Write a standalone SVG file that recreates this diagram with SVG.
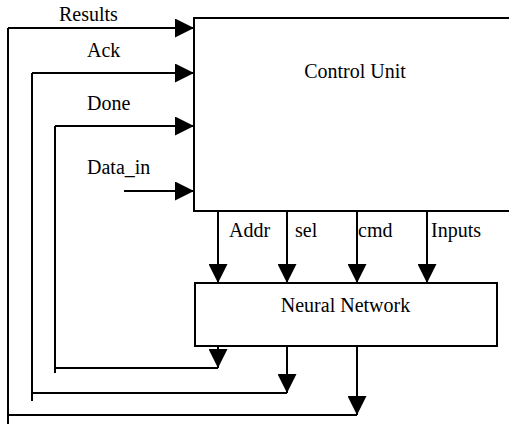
<svg xmlns="http://www.w3.org/2000/svg" width="509" height="428" viewBox="0 0 509 428">
  <style>
    .box { fill: #ffffff; stroke: #000000; stroke-width: 2; }
    .wire { fill: none; stroke: #000000; stroke-width: 2; }
    .arr { fill: none; stroke: #000000; stroke-width: 2; marker-end: url(#ah); }
    text { font-family: "Liberation Serif", "Times New Roman", serif; font-size: 20px; fill: #000000; }
  </style>
  <defs>
    <marker id="ah" markerUnits="userSpaceOnUse" viewBox="0 0 19 19" refX="19" refY="9.5" markerWidth="19" markerHeight="19" orient="auto">
      <path d="M0,0 L19,9.5 L0,19 Z" fill="#000000"/>
    </marker>
  </defs>
  <rect width="509" height="428" fill="#ffffff"/>

  <g id="control-unit">
    <rect class="box" x="194" y="18" width="340" height="193"/>
    <text x="355" y="78" text-anchor="middle">Control Unit</text>
  </g>

  <g id="neural-network">
    <rect class="box" x="195" y="283" width="302" height="63"/>
    <text x="345.5" y="312" text-anchor="middle">Neural Network</text>
  </g>

  <g id="connectors">
    <!-- Results feedback -->
    <line class="arr" x1="357" y1="346" x2="357" y2="415"/>
    <line class="wire" x1="357" y1="415" x2="8" y2="415"/>
    <line class="wire" x1="8" y1="424" x2="8" y2="28"/>
    <line class="arr" x1="8" y1="28" x2="194" y2="28"/>
    <!-- Ack feedback -->
    <line class="arr" x1="287" y1="346" x2="287" y2="393"/>
    <line class="wire" x1="287" y1="393" x2="32" y2="393"/>
    <line class="wire" x1="32" y1="401" x2="32" y2="73"/>
    <line class="arr" x1="32" y1="73" x2="194" y2="73"/>
    <!-- Done feedback -->
    <line class="arr" x1="218" y1="346" x2="218" y2="368"/>
    <line class="wire" x1="218" y1="368" x2="55" y2="368"/>
    <line class="wire" x1="55" y1="373" x2="55" y2="126"/>
    <line class="arr" x1="55" y1="126" x2="194" y2="126"/>
    <!-- Data_in -->
    <line class="arr" x1="124" y1="191" x2="194" y2="191"/>
    <!-- Control Unit to Neural Network -->
    <line class="arr" x1="218" y1="211" x2="218" y2="283"/>
    <line class="arr" x1="287" y1="211" x2="287" y2="283"/>
    <line class="arr" x1="357" y1="211" x2="357" y2="283"/>
    <line class="arr" x1="427" y1="211" x2="427" y2="283"/>

    <text x="59" y="21">Results</text>
    <text x="87" y="57">Ack</text>
    <text x="87" y="110">Done</text>
    <text x="87" y="174">Data_in</text>
    <text x="229" y="237">Addr</text>
    <text x="295" y="237">sel</text>
    <text x="358" y="237">cmd</text>
    <text x="431" y="237">Inputs</text>
  </g>
</svg>
